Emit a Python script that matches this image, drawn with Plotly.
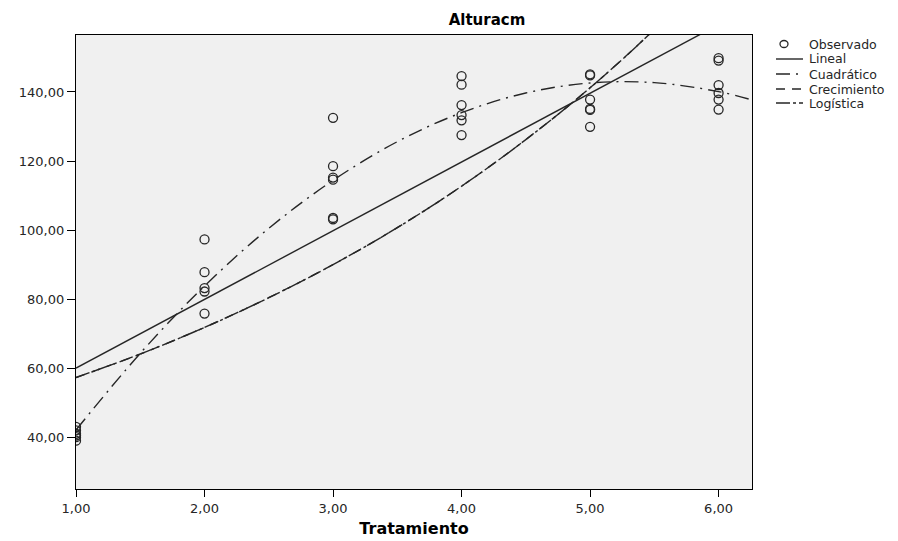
import plotly.graph_objects as go

# Observed values (Tratamiento vs Alturacm)
tratamiento_obs = [1, 1, 1, 1, 1, 1,
                   2, 2, 2, 2, 2,
                   3, 3, 3, 3, 3, 3,
                   4, 4, 4, 4, 4, 4,
                   5, 5, 5, 5, 5, 5,
                   6, 6, 6, 6, 6, 6]
altura_obs = [39.0, 40.0, 40.5, 41.0, 42.0, 43.0,
              97.3, 87.8, 83.2, 82.2, 75.8,
              132.5, 118.5, 115.2, 114.6, 103.5, 103.1,
              144.6, 142.1, 136.2, 133.3, 131.8, 127.5,
              145.1, 144.8, 137.8, 135.1, 134.8, 129.9,
              149.8, 149.1, 142.0, 139.7, 137.8, 134.9]

# Fitted curves
lineal_x = [1.0, 6.26]
lineal_y = [60.0, 164.7]

curva_x = [1.0, 1.5, 2.0, 2.5, 3.0, 3.5, 4.0, 4.5, 5.0, 5.5, 6.0, 6.26]
cuadratico_y = [42.1, 64.3, 83.8, 100.5, 114.4, 125.6, 134.0, 139.7, 142.6, 142.7, 140.1, 137.7]

crec_x = [1.0, 1.5, 2.0, 2.5, 3.0, 3.5, 4.0, 4.5, 5.0, 5.5, 6.0]
crecimiento_y = [57.3, 64.1, 71.8, 80.4, 90.0, 100.7, 112.7, 126.2, 141.2, 158.1, 177.0]
logistica_y = [57.3, 64.1, 71.8, 80.4, 90.0, 100.7, 112.7, 126.2, 141.2, 158.1, 177.0]

FONT = "DejaVu Sans, Arial, sans-serif"
INK = "#262626"

# the page body adds an 8px margin, so the figure is a bit smaller than the window
OFF = 8
W, H = 898 - OFF, 541 - OFF
ML, MR, MT, MB = 76 - OFF, 146, 35 - OFF, 52
PW, PH = W - ML - MR, H - MT - MB


# screen pixel -> paper fraction (only for the hand-drawn legend / title)
def px_x(p):
    return (p - OFF - ML) / PW


def px_y(p):
    return (H - MB - (p - OFF)) / PH


DASH = {
    "Lineal": "solid",
    "Cuadrático": "14px,6px,2px,6px",
    "Crecimiento": "9px,7px",
    "Logística": "14px,3px,3px,3px",
}

fig = go.Figure()

fig.add_trace(go.Scatter(
    x=tratamiento_obs, y=altura_obs, mode="markers", name="Observado",
    marker=dict(symbol="circle-open", size=9, color=INK, line=dict(width=1.3))
))
fig.add_trace(go.Scatter(
    x=lineal_x, y=lineal_y, mode="lines", name="Lineal",
    line=dict(color=INK, width=1.4, dash=DASH["Lineal"])
))
fig.add_trace(go.Scatter(
    x=curva_x, y=cuadratico_y, mode="lines", name="Cuadrático",
    line=dict(color=INK, width=1.4, shape="spline", dash=DASH["Cuadrático"])
))
fig.add_trace(go.Scatter(
    x=crec_x, y=crecimiento_y, mode="lines", name="Crecimiento",
    line=dict(color=INK, width=1.4, shape="spline", dash=DASH["Crecimiento"])
))
fig.add_trace(go.Scatter(
    x=crec_x, y=logistica_y, mode="lines", name="Logística",
    line=dict(color=INK, width=1.4, shape="spline", dash=DASH["Logística"])
))

# compact legend drawn by hand (plotly's legend rows are too tall)
legend_items = ["Observado", "Lineal", "Cuadrático", "Crecimiento", "Logística"]
legend_rows = [44, 59, 74, 89, 103]
shapes = []
annotations = []
for name, row in zip(legend_items, legend_rows):
    if name == "Observado":
        shapes.append(dict(type="circle", xref="paper", yref="paper",
                           xsizemode="pixel", ysizemode="pixel",
                           xanchor=px_x(784), yanchor=px_y(row),
                           x0=-4, x1=4, y0=-3.5, y1=3.5,
                           line=dict(color=INK, width=1.3)))
    else:
        shapes.append(dict(type="line", xref="paper", yref="paper",
                           x0=px_x(776), x1=px_x(803), y0=px_y(row), y1=px_y(row),
                           line=dict(color=INK, width=1.4, dash=DASH[name])))
    annotations.append(dict(text=name, xref="paper", yref="paper",
                            x=px_x(807), y=px_y(row), xanchor="left", yanchor="middle",
                            showarrow=False, font=dict(family=FONT, size=12.5, color=INK)))

fig.update_layout(
    width=W, height=H,
    margin=dict(l=ML, r=MR, t=MT, b=MB),
    paper_bgcolor="white",
    plot_bgcolor="#F0F0F0",
    separators=",.",
    font=dict(family=FONT, size=13, color=INK),
    title=dict(text="<b>Alturacm</b>", xref="paper", x=px_x(487), xanchor="center",
               yref="container", y=1 - (20 - OFF) / H, yanchor="middle",
               font=dict(family=FONT, size=15, color="black")),
    showlegend=False,
    shapes=shapes,
    annotations=annotations,
)

fig.update_xaxes(
    range=[1.0, 6.26], tickvals=[1, 2, 3, 4, 5, 6], tickformat=".2f",
    showgrid=False, zeroline=False, automargin=False,
    showline=True, linecolor="black", linewidth=1.2, mirror=True,
    ticks="outside", ticklen=7, tickcolor="black",
    tickfont=dict(size=13),
    title=dict(text="<b>Tratamiento</b>", font=dict(family=FONT, size=16, color="black"), standoff=8),
)
fig.update_yaxes(
    range=[25, 156.5], tickvals=[40, 60, 80, 100, 120, 140], tickformat=".2f",
    showgrid=False, zeroline=False, automargin=False,
    showline=True, linecolor="black", linewidth=1.2, mirror=True,
    ticks="outside", ticklen=8, tickcolor="black",
    tickfont=dict(size=13),
)

fig.write_html("out.html")
